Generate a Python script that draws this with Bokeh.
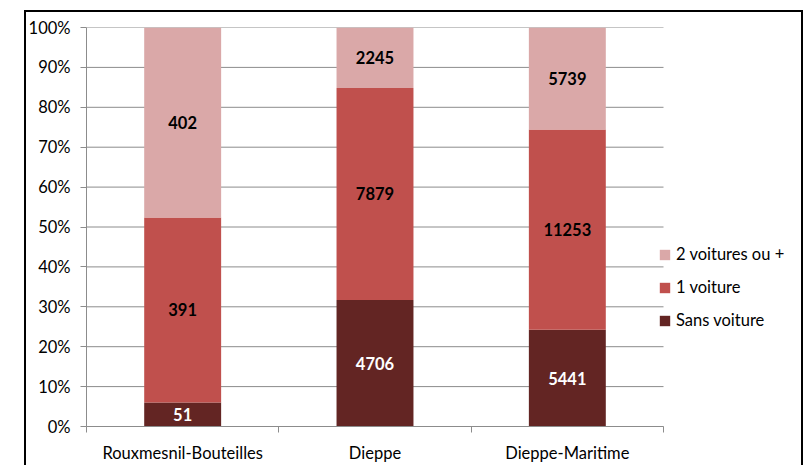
from bokeh.plotting import figure
from bokeh.models import (ColumnDataSource, FixedTicker, NumeralTickFormatter, Range1d,
                          Legend, LegendItem, LabelSet, InlineStyleSheet)
from bokeh.core.properties import value
from bokeh.embed import file_html
from bokeh.resources import INLINE

categories = ["Rouxmesnil-Bouteilles", "Dieppe", "Dieppe-Maritime"]
sans_voiture = [51, 4706, 5441]
une_voiture = [391, 7879, 11253]
deux_voitures = [402, 2245, 5739]
series_names = ["Sans voiture", "1 voiture", "2 voitures ou +"]
y_ticks = [0, 0.1, 0.2, 0.3, 0.4, 0.5, 0.6, 0.7, 0.8, 0.9, 1.0]

colors = ["#632523", "#C0504D", "#DAA8A8"]
label_colors = ["white", "black", "black"]
FONT = "Lato"
FS = "16.5px"
GRID = "#8C8C8C"

n = len(categories)
xs = [i + 0.5 for i in range(n)]
totals = [a + b + c for a, b, c in zip(sans_voiture, une_voiture, deux_voitures)]
series = [sans_voiture, une_voiture, deux_voitures]
fracs = [[v / t for v, t in zip(s, totals)] for s in series]

source = ColumnDataSource(dict(x=xs, s0=fracs[0], s1=fracs[1], s2=fracs[2]))

# plot area: categories occupy 86..663 px, the rest of the frame hosts the legend
left_px, cat_right_px, frame_right_px = 86, 663, 800
x_end = n * (frame_right_px - left_px) / (cat_right_px - left_px)

p = figure(width=805, height=465, output_backend="svg", toolbar_location=None,
           x_range=Range1d(0, x_end), y_range=Range1d(0, 1),
           min_border_left=left_px, min_border_right=805 - frame_right_px,
           min_border_top=27, min_border_bottom=36)
p.outline_line_color = None
p.xgrid.grid_line_color = None
p.ygrid.grid_line_color = None

# horizontal grid lines limited to the category area
p.segment(x0=[0] * len(y_ticks), x1=[n] * len(y_ticks), y0=y_ticks, y1=y_ticks,
          line_color=GRID, line_width=1)

renderers = p.vbar_stack(["s0", "s1", "s2"], x="x", width=0.4, source=source,
                         fill_color=colors, line_color=None)

# labels
lx, ly, lt, lc = [], [], [], []
for i in range(n):
    base = 0.0
    for k in range(3):
        f = fracs[k][i]
        lx.append(xs[i]); ly.append(base + f / 2); lt.append(str(series[k][i])); lc.append(label_colors[k])
        base += f
lsrc = ColumnDataSource(dict(x=lx, y=ly, t=lt, c=lc))
p.add_layout(LabelSet(x="x", y="y", text="t", source=lsrc, text_color="c",
                      text_font=value(FONT), text_font_style="bold", text_font_size=FS,
                      text_align="center", text_baseline="middle"))

# axes
p.yaxis.ticker = FixedTicker(ticks=y_ticks)
p.yaxis.formatter = NumeralTickFormatter(format="0%")
p.yaxis.axis_line_color = GRID
p.yaxis.major_tick_line_color = GRID
p.yaxis.major_tick_out = 6
p.yaxis.major_tick_in = 0
p.yaxis.minor_tick_line_color = None
p.yaxis.major_label_standoff = 10
p.yaxis.major_label_text_font = FONT
p.yaxis.major_label_text_font_size = FS
p.yaxis.major_label_text_color = "black"

p.xaxis.ticker = FixedTicker(ticks=xs, minor_ticks=list(range(n + 1)))
p.xaxis.bounds = (0, n)
p.xaxis.major_label_overrides = {x: c for x, c in zip(xs, categories)}
p.xaxis.axis_line_color = GRID
p.xaxis.major_tick_line_color = None
p.xaxis.minor_tick_line_color = GRID
p.xaxis.minor_tick_out = 6
p.xaxis.minor_tick_in = 0
p.xaxis.major_label_standoff = 10
p.xaxis.major_label_text_font = FONT
p.xaxis.major_label_text_font_size = FS
p.xaxis.major_label_text_color = "black"

# legend
items = [LegendItem(label=series_names[k], renderers=[renderers[k]]) for k in (2, 1, 0)]
legend = Legend(items=items, location=(572, 96), padding=0, margin=0,
                border_line_color=None, background_fill_alpha=0,
                glyph_width=13, glyph_height=13, label_height=13, spacing=13,
                label_standoff=5, label_text_font=FONT, label_text_font_size=FS,
                label_text_color="black")
p.add_layout(legend, "center")

# outer frame around the chart (drawn with CSS)
p.stylesheets = [InlineStyleSheet(css="""
:host { position: relative; }
:host::after {
  content: ''; position: absolute; left: 24px; top: 10px;
  width: 779px; height: 455px; box-sizing: border-box;
  border-style: solid; border-color: black; border-width: 2px 2px 0 2px;
  pointer-events: none;
}
""")]

open("out.html", "w").write(file_html(p, INLINE))
